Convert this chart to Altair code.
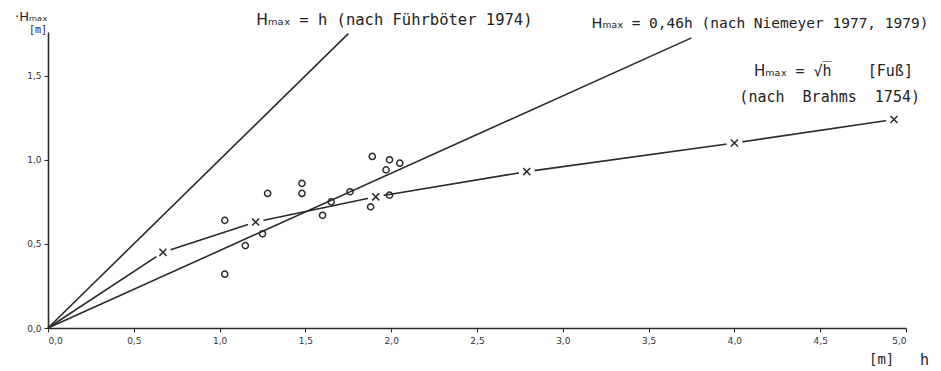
import altair as alt
import pandas as pd

# Brahms (H = sqrt(h) [Fuß]) construction points
brahms_h = [0.67, 1.21, 1.91, 2.79, 4.00, 4.93]
brahms_H = [0.45, 0.63, 0.78, 0.93, 1.10, 1.24]

# measured values (open circles)
obs_h = [1.03, 1.03, 1.15, 1.25, 1.28, 1.48, 1.48, 1.60, 1.65, 1.76, 1.88, 1.89, 1.97, 1.99, 1.99, 2.05]
obs_H = [0.64, 0.32, 0.49, 0.56, 0.80, 0.86, 0.80, 0.67, 0.75, 0.81, 0.72, 1.02, 0.94, 1.00, 0.79, 0.98]

# straight lines from origin to their drawn end points
fuehrboeter_h = [0.0, 1.75]
fuehrboeter_H = [0.0, 1.75]
niemeyer_h = [0.0, 3.75]
niemeyer_H = [0.0, 0.46 * 3.75]

x_ticks = [0.0, 0.5, 1.0, 1.5, 2.0, 2.5, 3.0, 3.5, 4.0, 4.5, 5.0]
y_ticks = [0.0, 0.5, 1.0, 1.5]

INK = "#2b2b2b"
FONT = "DejaVu Sans"
MONO = "DejaVu Sans Mono"
NB = "\u00a0"
label_expr = "replace(format(datum.value, '.1f'), '.', ',')"

xs = alt.Scale(domain=[0, 5.0], nice=False, zero=True)
ys = alt.Scale(domain=[0, 1.76], nice=False, zero=True)

X = lambda: alt.X("h:Q", scale=xs, axis=alt.Axis(values=x_ticks, labelExpr=label_expr, title=None,
                                                 grid=False, domainColor=INK, domainWidth=1.6,
                                                 tickColor=INK, tickSize=4, labelFont=FONT,
                                                 labelFontSize=9, labelColor="#333", labelPadding=4))
Y = lambda: alt.Y("H:Q", scale=ys, axis=alt.Axis(values=y_ticks, labelExpr=label_expr, title=None,
                                                 grid=False, domainColor=INK, domainWidth=1.6,
                                                 tickColor=INK, tickSize=4, labelFont=FONT,
                                                 labelFontSize=9, labelColor="#333", labelPadding=3))

df_f = pd.DataFrame({"h": fuehrboeter_h, "H": fuehrboeter_H})
df_n = pd.DataFrame({"h": niemeyer_h, "H": niemeyer_H})
df_b_line = pd.DataFrame({"h": [0.0] + brahms_h, "H": [0.0] + brahms_H})
df_b = pd.DataFrame({"h": brahms_h, "H": brahms_H})
df_o = pd.DataFrame({"h": obs_h, "H": obs_H})

line_b = alt.Chart(df_b_line).mark_line(color=INK, strokeWidth=1.6).encode(x=X(), y=Y())
halo = alt.Chart(df_b).mark_point(shape="circle", filled=True, color="white", opacity=1,
                                  size=260).encode(x=X(), y=Y())
line_f = alt.Chart(df_f).mark_line(color=INK, strokeWidth=1.6).encode(x=X(), y=Y())
line_n = alt.Chart(df_n).mark_line(color=INK, strokeWidth=1.6).encode(x=X(), y=Y())
crosses = alt.Chart(df_b).mark_point(shape="M-1,-1L1,1M1,-1L-1,1", filled=False, color=INK,
                                     strokeWidth=1.5, opacity=1, size=50).encode(x=X(), y=Y())
circles = alt.Chart(df_o).mark_point(shape="circle", filled=False, color=INK, strokeWidth=1.5,
                                     opacity=1, size=38).encode(x=X(), y=Y())


def label(text, h, H, dx, dy, align="left", size=15, font=MONO):
    d = pd.DataFrame({"h": [h], "H": [H], "t": [text]})
    return alt.Chart(d).mark_text(align=align, baseline="middle", dx=dx, dy=dy, font=font,
                                  fontSize=size, color="#222").encode(
        x=alt.X("h:Q", scale=xs), y=alt.Y("H:Q", scale=ys), text="t:N")


def hmax_label(rest, h, H, dx, dy, size):
    """'Hₘₐₓ' in a proportional face, the remainder in a monospaced face."""
    cell = 0.602 * size
    return [label("Hₘₐₓ", h, H, dx, dy, size=size, font=FONT),
            label(rest, h, H, dx + 4.6 * cell, dy, size=size)]


labels = (
    hmax_label("= h (nach Führböter 1974)", fuehrboeter_h[-1], fuehrboeter_H[-1], -92, -14, 15.5)
    + hmax_label("= 0,46h (nach Niemeyer 1977, 1979)", niemeyer_h[-1], niemeyer_H[-1], -100, -14, 14.5)
    + hmax_label("= √h̅" + NB * 4 + "[Fuß]", brahms_h[-1], brahms_H[-1], -140, -48, 15)
    + [
        label("(nach" + NB * 2 + "Brahms" + NB * 2 + "1754)", brahms_h[-1], brahms_H[-1], 26, -22,
              align="right", size=15),
        label("·Hₘₐₓ", 0.0, 1.76, -33, -15, size=13, font=FONT),
        label("[m]", 0.0, 1.76, -19, -2, size=10),
        label("[m]", 5.0, 0.0, -37, 32, size=14),
        label("h", 5.0, 0.0, 14, 32, size=15),
    ]
)

chart = alt.layer(line_b, halo, line_f, line_n, crosses, circles, *labels).properties(
    width=858, height=296,
    autosize=alt.AutoSizeParams(type="none"),
    padding={"left": 40, "top": 24, "right": 27, "bottom": 40},
    background="white",
).configure_view(stroke=None)

chart.save("out.html", embed_options={"renderer": "svg", "actions": False})
